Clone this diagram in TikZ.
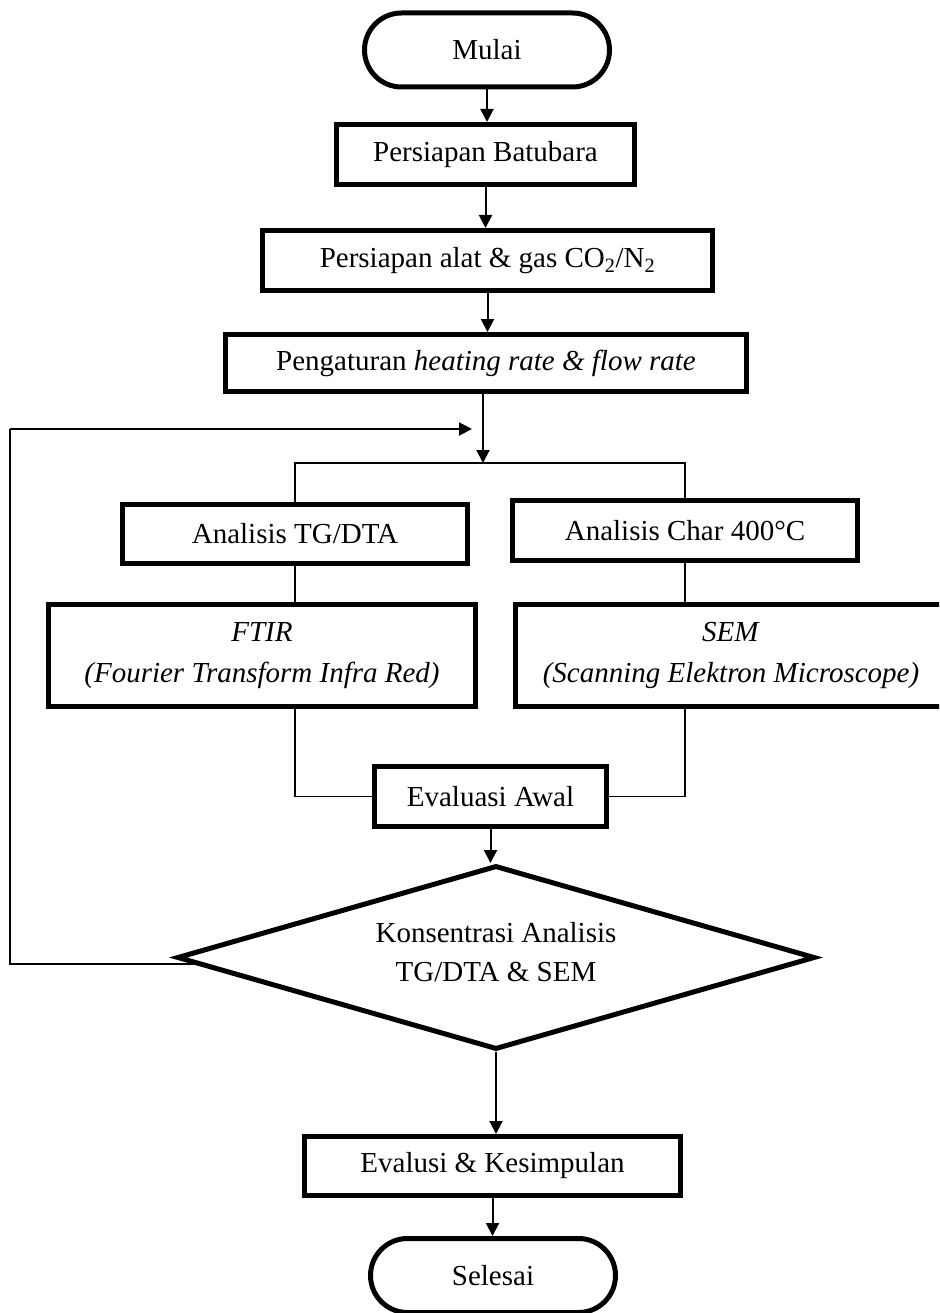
\documentclass[tikz,border=0pt]{standalone}
\usepackage{fontspec}
\setmainfont{Liberation Serif}
\usetikzlibrary{arrows.meta,shapes.geometric,calc}
\begin{document}
\begin{tikzpicture}[x=1pt,y=-1pt,
  box/.style={draw, line width=5pt, rectangle, inner sep=0pt, align=center,
    font=\fontsize{29}{41}\selectfont},
  term/.style={box, rounded corners=37pt},
  decision/.style={box, diamond, aspect=3.4},
  arr/.style={line width=2pt, -{Triangle[length=13pt,width=13pt]}},
  conn/.style={line width=1.4pt}]
\clip (0,0) rectangle (939,1313);
\fill[white] (0,0) rectangle (939,1313);

\node[term, minimum width=245pt, minimum height=74pt] (mulai) at (487,50) {Mulai};
\node[box, minimum width=298pt, minimum height=60pt] (bat) at (485.5,154.5) {Persiapan Batubara};
\node[box, minimum width=450pt, minimum height=60pt] (alat) at (487.5,260.5) {Persiapan alat \& gas CO\textsubscript{2}/N\textsubscript{2}};
\node[box, minimum width=521pt, minimum height=57pt] (atur) at (486,363) {Pengaturan \textit{heating rate \& flow rate}};
\node[box, minimum width=345pt, minimum height=59pt] (tg) at (295,534) {Analisis TG/DTA};
\node[box, minimum width=345pt, minimum height=60pt] (char) at (685,530.5) {Analisis Char 400°C};
\node[box, minimum width=427pt, minimum height=102pt] (ftir) at (262,655.5) {\textit{FTIR}\\\textit{(Fourier Transform Infra Red)}};
\node[box, minimum width=431pt, minimum height=102pt] (sem) at (731,655.5) {\textit{SEM}\\\textit{(Scanning Elektron Microscope)}};
\node[box, minimum width=232pt, minimum height=60pt] (awal) at (490.5,796.5) {Evaluasi Awal};
\node[decision, minimum width=638pt, minimum height=184pt,
  label={[font=\fontsize{29}{39}\selectfont, align=center, yshift=5pt]center:Konsentrasi Analisis\\TG/DTA \& SEM}] (d) at (496,957.5) {};
\node[box, minimum width=376pt, minimum height=59pt] (kes) at (492.5,1166) {Evalusi \& Kesimpulan};
\node[term, minimum width=245pt, minimum height=74pt] (selesai) at (493,1275.5) {Selesai};

\coordinate (j) at (483,463);
\coordinate (lp) at (10,429);
\coordinate (lpend) at (472,429);

\draw[arr] (mulai.south) -- (mulai.south |- bat.north);
\draw[arr] (bat.south) -- (bat.south |- alat.north);
\draw[arr] (alat.south) -- (alat.south |- atur.north);
\draw[arr] (atur.south -| j) -- (j);
\draw[conn] (tg.north) |- (j) -| (char.north);
\draw[conn] (tg.south) -- (tg.south |- ftir.north);
\draw[conn] (char.south) -- (char.south |- sem.north);
\draw[conn] (tg.south |- ftir.south) |- (awal.west);
\draw[conn] (char.south |- sem.south) |- (awal.east);
\draw[arr] (awal.south) -- (awal.south |- d.north);
\draw[conn] ($(d.west)!0.07!(d.south)$) -| (lp);
\draw[arr] (lp) -- (lpend);
\draw[arr] (d.south) -- (d.south |- kes.north);
\draw[arr] (kes.south) -- (kes.south |- selesai.north);
\end{tikzpicture}
\end{document}
